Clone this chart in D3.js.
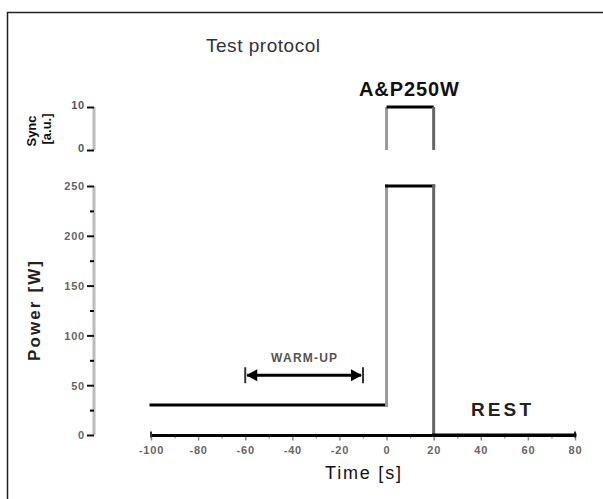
<!DOCTYPE html>
<html><head><meta charset="utf-8">
<script src="https://cdn.jsdelivr.net/npm/d3@7"></script>
<style>body{margin:0;background:#fff}svg{display:block;font-family:"Liberation Sans",Arial,sans-serif}</style>
</head><body><svg id="c" width="603" height="499"></svg>
<script>
// ---- data ----
const xTicks = [-100, -80, -60, -40, -20, 0, 20, 40, 60, 80];
const powerTicks = [0, 50, 100, 150, 200, 250];
const signalTicks = [0, 10];
const powerTime = [-100, 0, 0, 20, 20, 80];
const powerWatts = [30, 30, 250, 250, 0, 0];
const signalTime = [0, 0, 20, 20];
const signalValue = [0, 10, 10, 0];
const warmup = [-60, -10];
const warmupLevel = 60;

const svg = d3.select("#c");
svg.append("rect").attr("x", 7.5).attr("y", 12.5).attr("width", 620).attr("height", 520)
  .attr("fill", "none").attr("stroke", "#222").attr("stroke-width", 1.5);

const x = d3.scaleLinear().domain([-100, 80]).range([151, 575]);
const y = d3.scaleLinear().domain([0, 250]).range([435, 186]);
const ys = d3.scaleLinear().domain([0, 10]).range([150, 107]);

// title
svg.append("text").attr("x", 263).attr("y", 52).attr("text-anchor", "middle")
  .attr("font-size", 19).attr("fill", "#333").attr("textLength", 114).text("Test protocol");

// ---- bottom power axis ----
const gy = svg.append("g").attr("transform", "translate(94,0)");
gy.append("line").attr("x1", 0).attr("x2", 0).attr("y1", y(250)).attr("y2", y(0))
  .attr("stroke", "#bbb").attr("stroke-width", 3);
const ayMinor = d3.axisLeft(y).tickValues(d3.range(25, 250, 50)).tickSize(4).tickFormat("");
gy.append("g").call(ayMinor).call(g => { g.select(".domain").remove(); g.selectAll("line").attr("stroke", "#000").attr("stroke-width", 2); });
const ay = d3.axisLeft(y).tickValues(powerTicks).tickSize(7).tickPadding(2);
gy.append("g").call(ay).call(g => {
  g.select(".domain").remove();
  g.selectAll("line").attr("stroke", "#111").attr("stroke-width", 2);
  g.selectAll("text").attr("font-size", 11).attr("font-weight", "bold").attr("fill", "#666").attr("letter-spacing", 0.8).attr("dy", "0.35em");
});
svg.append("text").attr("transform", "translate(40,311) rotate(-90)").attr("text-anchor", "middle")
  .attr("font-size", 17).attr("font-weight", "bold").attr("fill", "#222").attr("textLength", 100).text("Power [W]");

// ---- top signal axis ----
const gs = svg.append("g").attr("transform", "translate(94,0)");
gs.append("line").attr("x1", 0).attr("x2", 0).attr("y1", ys(10)).attr("y2", ys(0))
  .attr("stroke", "#bbb").attr("stroke-width", 3);
const as = d3.axisLeft(ys).tickValues(signalTicks).tickSize(7).tickPadding(2);
gs.append("g").call(as).call(g => {
  g.select(".domain").remove();
  g.selectAll("line").attr("stroke", "#111").attr("stroke-width", 2);
  g.selectAll("text").attr("font-size", 11).attr("font-weight", "bold").attr("fill", "#555").attr("letter-spacing", 0.8).attr("dy", "0.1em");
});
svg.append("text").attr("transform", "translate(36,131) rotate(-90)").attr("text-anchor", "middle")
  .attr("font-size", 13).attr("font-weight", "bold").attr("fill", "#111").text("Sync");
svg.append("text").attr("transform", "translate(51,129) rotate(-90)").attr("text-anchor", "middle")
  .attr("font-size", 13).attr("font-weight", "bold").attr("fill", "#111").text("[a.u.]");

// ---- x axis ----
const gx = svg.append("g").attr("transform", "translate(0,435.5)");
const axMinor = d3.axisBottom(x).tickValues(d3.range(-90, 80, 20)).tickSize(3).tickFormat("");
gx.append("g").call(axMinor).call(g => { g.select(".domain").remove(); g.selectAll("line").attr("stroke", "#999").attr("stroke-width", 1.5); });
const ax = d3.axisBottom(x).tickValues(xTicks).tickSize(5).tickPadding(6).tickFormat(d => String(d));
gx.append("g").call(ax).call(g => {
  g.select(".domain").remove();
  g.selectAll("line").attr("stroke", "#888").attr("stroke-width", 1.5);
  g.selectAll("text").attr("font-size", 11).attr("font-weight", "bold").attr("fill", "#666").attr("letter-spacing", 0.8);
});
gx.append("line").attr("x1", x(-100)).attr("x2", x(80)).attr("y1", 0).attr("y2", 0)
  .attr("stroke", "#000").attr("stroke-width", 3);
[-100, 80].forEach(v => gx.append("line").attr("x1", x(v)).attr("x2", x(v)).attr("y1", -4).attr("y2", 2)
  .attr("stroke", "#333").attr("stroke-width", 2));
svg.append("text").attr("x", 363).attr("y", 479).attr("text-anchor", "middle")
  .attr("font-size", 18).attr("fill", "#111").attr("textLength", 76).text("Time [s]");

// ---- power trace ----
const pts = powerTime.map((t, i) => [x(t), y(powerWatts[i])]);
for (let i = 0; i < pts.length - 1; i++) {
  const a = pts[i], b = pts[i + 1];
  const vert = a[0] === b[0];
  svg.append("line").attr("x1", a[0]).attr("y1", a[1]).attr("x2", b[0]).attr("y2", b[1])
    .attr("stroke", vert ? (i === 1 ? "#999" : "#666") : "#000")
    .attr("stroke-width", 3).attr("stroke-linecap", "square");
}
// ---- signal trace ----
const sp = signalTime.map((t, i) => [x(t), ys(signalValue[i])]);
for (let i = 0; i < sp.length - 1; i++) {
  const a = sp[i], b = sp[i + 1];
  const vert = a[0] === b[0];
  svg.append("line").attr("x1", a[0]).attr("y1", a[1]).attr("x2", b[0]).attr("y2", b[1])
    .attr("stroke", vert ? (i === 0 ? "#999" : "#666") : "#000")
    .attr("stroke-width", 3);
}

// ---- warm-up arrow ----
const wy = y(warmupLevel), wx1 = x(warmup[0]), wx2 = x(warmup[1]);
svg.append("line").attr("x1", wx1 + 2).attr("x2", wx2 - 2).attr("y1", wy).attr("y2", wy)
  .attr("stroke", "#000").attr("stroke-width", 3);
svg.append("path").attr("d", `M${wx1 + 1},${wy} l11,-6 v12 z`).attr("fill", "#000");
svg.append("path").attr("d", `M${wx2 - 1},${wy} l-11,-6 v12 z`).attr("fill", "#000");
[wx1, wx2].forEach(v => svg.append("line").attr("x1", v).attr("x2", v).attr("y1", wy - 8).attr("y2", wy + 8)
  .attr("stroke", "#333").attr("stroke-width", 2));
svg.append("text").attr("x", (wx1 + wx2) / 2).attr("y", wy - 13).attr("text-anchor", "middle")
  .attr("font-size", 12).attr("font-weight", "bold").attr("fill", "#555").attr("textLength", 66).text("WARM-UP");

// labels
svg.append("text").attr("x", 409).attr("y", 96).attr("text-anchor", "middle")
  .attr("font-size", 20).attr("font-weight", "bold").attr("fill", "#111").attr("textLength", 100).text("A&P250W");
svg.append("text").attr("x", 501).attr("y", 416).attr("text-anchor", "middle")
  .attr("font-size", 19).attr("font-weight", "bold").attr("fill", "#222").attr("textLength", 60).text("REST");
</script></body></html>
